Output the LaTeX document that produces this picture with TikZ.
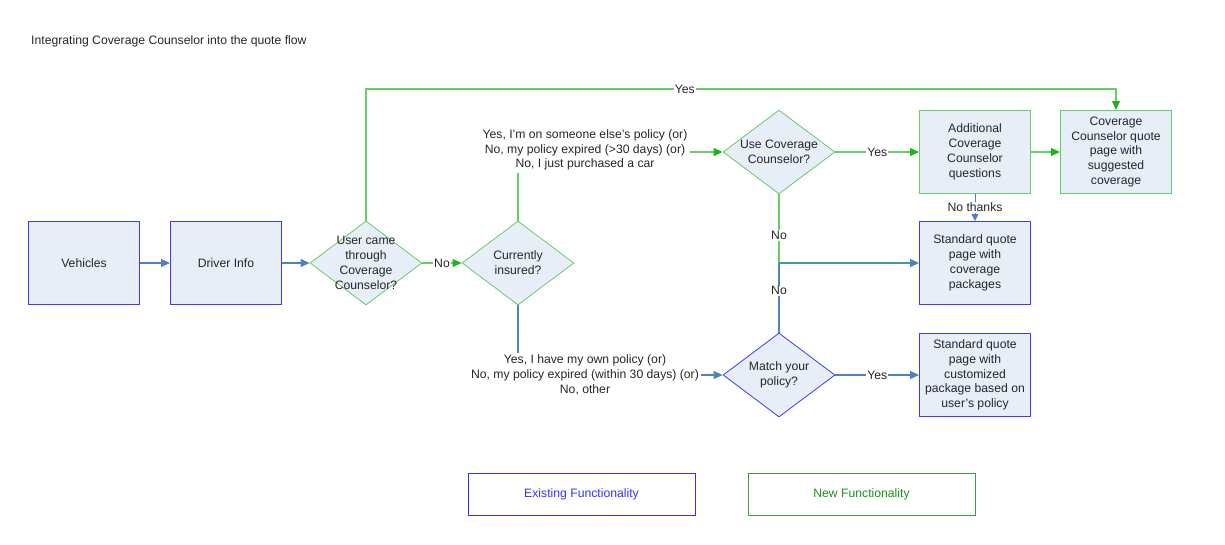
\documentclass[tikz,border=0pt]{standalone}
\usepackage{fontspec}
\setmainfont{Liberation Sans}
\usetikzlibrary{shapes.geometric,arrows.meta}
\definecolor{boxfill}{RGB}{232,238,248}
\definecolor{bbord}{RGB}{60,60,245}
\definecolor{gbord}{RGB}{100,205,100}
\definecolor{gline}{RGB}{100,205,100}
\definecolor{gtip}{RGB}{30,180,30}
\definecolor{bline}{RGB}{79,129,189}
\definecolor{tline}{RGB}{74,150,160}
\definecolor{legb}{RGB}{50,50,240}
\definecolor{legg}{RGB}{60,160,60}
\definecolor{leggt}{RGB}{30,140,30}
\begin{document}
\begin{tikzpicture}[x=1pt,y=-1pt,
  every node/.style={font=\fontsize{12.2}{14.8}\selectfont, text=black!85},
  bbox/.style={draw=bbord, fill=boxfill, line width=1pt, minimum width=111pt, minimum height=83pt, align=center, inner sep=2pt},
  gbox/.style={bbox, draw=gbord},
  dia/.style={diamond, draw=bbord, fill=boxfill, line width=0.8pt, minimum width=112pt, minimum height=84pt, inner sep=0pt},
  gdia/.style={dia, draw=gbord},
  dtext/.style={align=center, inner sep=0pt},
  garr/.style={draw=gline, line width=1.1pt, -{Triangle[length=9pt,width=8pt,color=gtip]}},
  barr/.style={draw=bline, line width=1.1pt, -{Triangle[length=9pt,width=8pt]}},
  gln/.style={draw=gline, line width=1.1pt},
  bln/.style={draw=bline, line width=1.1pt},
  lbl/.style={fill=white, inner sep=1pt},
  legbox/.style={draw, line width=1pt, minimum width=227pt, minimum height=42pt}
]
\useasboundingbox (0,0) rectangle (1225,544);

\node[anchor=west, inner sep=0pt] (title) at (31,41) {Integrating Coverage Counselor into the quote flow};

\node[bbox] (veh) at (84,263) {Vehicles};
\node[bbox] (drv) at (226,263) {Driver Info};
\node[gdia, label={[dtext]center:User came\\through\\Coverage\\Counselor?}] (d1) at (366,263) {};
\node[gdia, label={[dtext]center:Currently\\insured?}] (d2) at (518,263) {};
\node[gdia, label={[dtext]center:Use Coverage\\Counselor?}] (d3) at (779,152) {};
\node[dia, label={[dtext]center:Match your\\policy?}] (d4) at (779,375) {};
\node[gbox] (add) at (975,152) {Additional\\Coverage\\Counselor\\questions};
\node[gbox] (ccq) at (1116,152) {Coverage\\Counselor quote\\page with\\suggested\\coverage};
\node[bbox] (std1) at (975,263) {Standard quote\\page with\\coverage\\packages};
\node[bbox] (std2) at (975,375) {Standard quote\\page with\\customized\\package based on\\user's policy};

\node[align=center, inner sep=2pt] (ltop) at (585,150) {Yes, I'm on someone else's policy (or)\\No, my policy expired (>30 days) (or)\\No, I just purchased a car};
\node[align=center, inner sep=2pt] (lbot) at (585,375) {Yes, I have my own policy (or)\\No, my policy expired (within 30 days) (or)\\No, other};

\node[legbox, draw=legb, text=legb] (exist) at (581.5,494) {Existing Functionality};
\node[legbox, draw=legg, text=leggt] (newf) at (861.5,494) {New Functionality};

\coordinate (J) at (779,263);
\coordinate (top1) at (366,89);
\coordinate (top2) at (1116,89);

% connectors
\draw[barr] (veh) -- (drv);
\draw[barr] (drv) -- (d1.west);
\draw[garr] (d1.east) -- node[lbl]{No} (d2.west);
\draw[garr] (d1.north) -- (top1) -- node[lbl, pos=0.425]{Yes} (top2) -- (ccq.north);
\draw[gln] (d2.north) -- (ltop.south -| d2.north);
\draw[garr] (ltop.east |- d3.west) -- (d3.west);
\draw[bln] (d2.south) -- (lbot.north -| d2.south);
\draw[barr] (lbot.east |- d4.west) -- (d4.west);
\draw[garr] (d3.east) -- node[lbl]{Yes} (add.west);
\draw[garr] (add) -- (ccq);
\draw[draw=bline, line width=0.8pt, -{Triangle[length=7pt,width=7pt]}] (add.south) -- node[lbl]{No thanks} (std1.north);
\draw[gln] (d3.south) -- node[lbl, pos=0.6]{No} (J);
\draw[bln] (d4.north) -- node[lbl, pos=0.6]{No} (J);
\draw[draw=tline, line width=1.4pt, -{Triangle[length=9pt,width=8pt,color=bline]}] (J) -- (std1.west);
\draw[barr] (d4.east) -- node[lbl]{Yes} (std2.west);
\end{tikzpicture}
\end{document}
